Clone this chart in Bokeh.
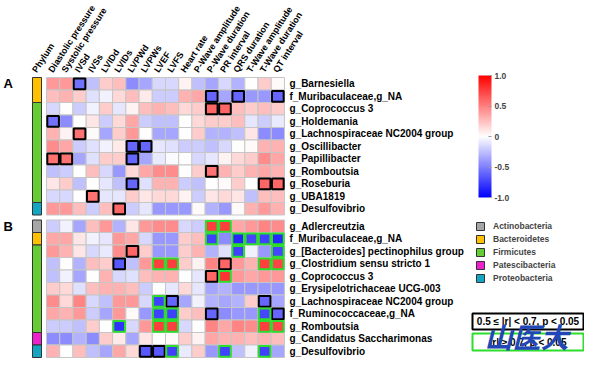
import numpy as np
from bokeh.plotting import figure
from bokeh.models import (ColumnDataSource, Range1d, LinearColorMapper, ColorBar,
                          FixedTicker, CustomJSTickFormatter)
from bokeh.core.properties import value
from bokeh.embed import file_html
from bokeh.resources import INLINE

# ---------------- data ----------------
params = ["Diastolic pressure", "Systolic pressure", "IVSd", "IVSs", "LVIDd",
          "LVIDs", "LVPWd", "LVPWs", "LVEF", "LVFS", "Heart rate",
          "P-Wave amplitude", "P-Wave duration", "PR interval", "QRS duration",
          "T-Wave amplitude", "T-Wave duration", "QT interval"]

genera_a = ["g_Barnesiella", "f_Muribaculaceae,g_NA", "g_Coprococcus 3",
            "g_Holdemania", "g_Lachnospiraceae NC2004 group", "g_Oscillibacter",
            "g_Papillibacter", "g_Romboutsia", "g_Roseburia", "g_UBA1819",
            "g_Desulfovibrio"]
phylum_a = ["Bacteroidetes", "Bacteroidetes", "Firmicutes", "Firmicutes",
            "Firmicutes", "Firmicutes", "Firmicutes", "Firmicutes", "Firmicutes",
            "Firmicutes", "Proteobacteria"]
r_a = [
    [0.40, 0.40, -0.55, -0.25, 0.20, 0.25, -0.45, -0.35, -0.15, -0.15, 0.05, -0.25, -0.35, -0.15, -0.30, 0.00, 0.20, 0.02],
    [0.25, 0.30, 0.20, -0.12, -0.05, 0.15, 0.25, 0.08, -0.20, -0.20, 0.30, 0.35, -0.60, -0.35, -0.60, -0.40, -0.40, -0.60],
    [-0.15, 0.00, -0.20, -0.05, 0.20, -0.10, 0.05, 0.25, 0.30, 0.25, 0.15, 0.20, 0.60, 0.60, 0.25, 0.20, 0.25, 0.20],
    [-0.55, -0.45, 0.00, 0.10, -0.20, 0.15, 0.35, -0.20, -0.25, -0.25, 0.00, 0.15, 0.20, 0.20, 0.25, -0.10, -0.20, -0.08],
    [0.30, 0.05, 0.55, 0.02, -0.35, 0.20, 0.40, 0.00, -0.35, -0.35, 0.00, 0.20, -0.30, -0.30, -0.25, 0.10, -0.45, -0.45],
    [0.45, 0.35, -0.20, -0.12, -0.05, 0.08, -0.60, -0.60, -0.10, -0.12, -0.20, -0.20, -0.25, -0.15, 0.00, 0.02, 0.30, 0.30],
    [0.55, 0.55, -0.35, -0.12, 0.20, 0.20, -0.60, -0.35, -0.08, -0.02, 0.00, -0.15, -0.10, 0.05, 0.15, 0.20, 0.45, 0.35],
    [-0.25, -0.20, 0.00, 0.25, -0.15, -0.40, 0.15, 0.35, 0.45, 0.45, 0.00, 0.20, 0.55, 0.30, 0.20, 0.30, 0.35, 0.30],
    [0.10, 0.20, -0.25, 0.00, -0.10, -0.25, -0.60, -0.12, 0.30, 0.30, -0.20, -0.25, 0.00, 0.02, 0.20, 0.00, 0.60, 0.60],
    [-0.15, -0.15, 0.00, 0.55, -0.10, -0.10, 0.20, 0.10, 0.15, 0.15, 0.05, -0.20, 0.10, 0.15, 0.10, -0.25, 0.25, 0.25],
    [0.40, 0.40, 0.25, -0.20, 0.25, 0.60, -0.20, -0.10, -0.40, -0.40, -0.40, 0.02, -0.30, -0.40, 0.02, 0.30, 0.40, 0.30],
]
# '.' not significant, 'b' 0.5<=|r|<0.7 p<0.05, 'g' |r|>=0.7 p<0.05
sig_a = [
    "..b...............",
    "............b.b..b",
    "............bb....",
    "b.................",
    "..b...............",
    "......bb..........",
    "bb....b...........",
    "............b.....",
    "......b.........bb",
    "...b..............",
    ".....b............",
]

genera_b = ["g_Adlercreutzia", "f_Muribaculaceae,g_NA",
            "g_[Bacteroides] pectinophilus group", "g_Clostridium sensu stricto 1",
            "g_Coprococcus 3", "g_Erysipelotrichaceae UCG-003",
            "g_Lachnospiraceae NC2004 group", "f_Ruminococcaceae,g_NA",
            "g_Romboutsia", "g_Candidatus Saccharimonas", "g_Desulfovibrio"]
phylum_b = ["Actinobacteria", "Bacteroidetes", "Firmicutes", "Firmicutes",
            "Firmicutes", "Firmicutes", "Firmicutes", "Firmicutes", "Firmicutes",
            "Patescibacteria", "Proteobacteria"]
r_b = [
    [-0.20, -0.05, -0.35, 0.25, 0.40, -0.30, 0.10, 0.40, 0.45, 0.45, -0.15, -0.20, 0.75, 0.75, 0.35, 0.40, 0.48, 0.45],
    [0.35, 0.35, 0.10, -0.05, -0.10, 0.40, 0.35, -0.15, -0.40, -0.40, 0.20, 0.25, -0.75, -0.45, -0.85, -0.72, -0.75, -0.85],
    [0.40, 0.30, 0.10, -0.15, -0.08, 0.45, 0.60, 0.20, -0.40, -0.40, 0.20, 0.30, -0.30, -0.12, -0.75, -0.05, -0.40, -0.72],
    [-0.25, 0.00, -0.30, 0.25, 0.20, -0.65, -0.25, 0.40, 0.75, 0.75, 0.20, 0.05, 0.48, 0.60, 0.40, 0.30, 0.75, 0.72],
    [-0.25, -0.05, -0.35, 0.00, 0.30, -0.15, -0.12, 0.25, 0.30, 0.30, 0.00, -0.10, 0.60, 0.80, 0.40, 0.35, 0.40, 0.40],
    [0.20, 0.15, -0.12, 0.25, 0.30, 0.30, 0.25, -0.20, 0.00, -0.10, 0.15, -0.10, -0.35, -0.30, -0.40, -0.40, -0.40, -0.40],
    [0.45, 0.15, 0.48, -0.15, -0.25, 0.40, 0.40, -0.15, -0.75, -0.60, -0.35, -0.05, -0.30, -0.35, -0.30, 0.20, -0.60, -0.35],
    [0.35, 0.30, 0.40, -0.20, -0.35, 0.40, 0.02, -0.40, -0.75, -0.75, 0.20, 0.25, -0.60, -0.45, -0.40, -0.40, -0.72, -0.60],
    [-0.20, -0.20, -0.25, 0.20, 0.00, -0.80, -0.15, 0.40, 0.75, 0.75, -0.15, 0.00, 0.48, 0.35, 0.48, 0.45, 0.75, 0.72],
    [-0.45, -0.45, -0.30, -0.45, 0.20, 0.08, -0.35, 0.10, 0.00, 0.02, 0.20, 0.05, 0.35, 0.30, 0.30, 0.25, 0.30, 0.25],
    [0.30, 0.00, 0.25, -0.25, -0.35, 0.35, 0.15, -0.65, -0.65, -0.75, -0.08, 0.20, -0.40, -0.75, -0.25, -0.05, -0.75, -0.35],
]
sig_b = [
    "............gg....",
    "............g.gggg",
    "......b.......g..g",
    ".....b..gg...b..gg",
    "............bg....",
    "..................",
    "........gb......b.",
    "........gg..b...gb",
    ".....g..gg......gg",
    "..................",
    ".......bbg...g..g.",
]

phyla = ["Actinobacteria", "Bacteroidetes", "Firmicutes", "Patescibacteria",
         "Proteobacteria"]
phylum_colors = ["#a6a6a6", "#ffc000", "#66cc33", "#ee22cc", "#14a5c3"]

sig_labels = ["0.5 \u2264 |r| < 0.7, p < 0.05", "|r| \u2265 0.7, p < 0.05"]

# ---------------- layout ----------------
W, H = 584, 358
cw, rh = 13.22, 12.5          # cell size in px
grid_left, grid_top = 46.0, 77.0
gap = 5.0 / rh                # gap between panel A and B (rows)
x0 = -0.5 - grid_left / cw
y_top = 0.5 + grid_top / rh   # row 0 centred at y = 0, rows go downward


def fx(px):
    return x0 + px / cw


def fy(py):
    return y_top - py / rh


FONT = value("Liberation Sans")

p = figure(width=W, height=H, x_range=Range1d(x0, x0 + W / cw),
           y_range=Range1d(y_top - H / rh, y_top), output_backend="svg",
           toolbar_location=None, min_border=0,
           x_axis_location=None, y_axis_location=None)
p.grid.visible = False
p.outline_line_color = None
p.background_fill_color = "white"
p.border_fill_color = "white"

pal = []
for t in np.linspace(-1, 1, 256):
    if t < 0:
        c = (int(round(255 * (1 + t))), int(round(255 * (1 + t))), 255)
    else:
        c = (255, int(round(255 * (1 - t))), int(round(255 * (1 - t))))
    pal.append("#%02x%02x%02x" % c)
mapper = LinearColorMapper(palette=pal, low=-1, high=1)

nrow_a = len(genera_a)
offsets = [0.0, nrow_a + gap]
panels = [(genera_a, phylum_a, r_a, sig_a), (genera_b, phylum_b, r_b, sig_b)]

cx, cy, cr = [], [], []
bx, by, gx, gy = [], [], [], []
lab_y, lab_t = [], []
blocks = {ph: ([], []) for ph in phyla}
for off, (gen, phy, r, sig) in zip(offsets, panels):
    for i, row in enumerate(r):
        for j, v in enumerate(row):
            cx.append(j)
            cy.append(-(off + i))
            cr.append(v)
            if sig[i][j] == "b":
                bx.append(j); by.append(-(off + i))
            elif sig[i][j] == "g":
                gx.append(j); gy.append(-(off + i))
        lab_y.append(-(off + i))
        lab_t.append(gen[i])
    start = 0
    for i in range(1, len(phy) + 1):
        if i == len(phy) or phy[i] != phy[start]:
            blocks[phy[start]][0].append(-(off + (start + i - 1) / 2))
            blocks[phy[start]][1].append(i - start)
            start = i

src = ColumnDataSource(dict(x=cx, y=cy, r=cr))
p.rect(x="x", y="y", width=1, height=1, source=src,
       fill_color={"field": "r", "transform": mapper},
       line_color="#c6c6c6", line_width=1)
p.rect(x=bx, y=by, width=0.88, height=0.86, fill_color=None,
       line_color="black", line_width=2)
p.rect(x=gx, y=gy, width=0.88, height=0.86, fill_color=None,
       line_color="#2ddc2d", line_width=2)

# phylum side bar (one renderer per phylum -> legend)
bar_x = fx(36.5)
for ph, col in zip(phyla, phylum_colors):
    ys, hs = blocks[ph]
    p.rect(x=[bar_x] * len(ys), y=ys, width=9 / cw, height=hs,
           fill_color=col, line_color="#333333", line_width=1,
           legend_label=ph)

lg = p.legend[0]
lg.location = (475, 75)
lg.orientation = "vertical"
lg.glyph_width = 10
lg.glyph_height = 10
lg.label_height = 10
lg.spacing = 3
lg.padding = 0
lg.margin = 0
lg.label_standoff = 8
lg.border_line_color = None
lg.background_fill_alpha = 0
lg.label_text_font = "Liberation Sans"
lg.label_text_font_style = "bold"
lg.label_text_font_size = "8.5px"
lg.label_text_baseline = "middle"

# row labels
ncol = len(params)
p.text(x=[ncol - 0.5 + 5 / cw] * len(lab_y), y=lab_y, text=lab_t,
       text_font=FONT, text_font_style="bold", text_font_size="10px",
       text_align="left", text_baseline="middle", text_color="black")

# column labels
ang = np.deg2rad(57)
lab_base = fy(grid_top - 6)
p.text(x=[j - 0.2 for j in range(ncol)], y=[lab_base] * ncol, text=params,
       angle=ang, text_font=FONT, text_font_style="bold", text_font_size="9px",
       text_align="left", text_baseline="middle", text_color="black")
p.text(x=[bar_x - 0.2], y=[lab_base], text=["Phylum"], angle=ang,
       text_font=FONT, text_font_style="bold", text_font_size="9px",
       text_align="left", text_baseline="middle", text_color="black")

# panel letters
p.text(x=[fx(3)] * 2, y=[0, -offsets[1]], text=["A", "B"], text_font=FONT,
       text_font_style="bold", text_font_size="13px", text_align="left",
       text_baseline="middle", text_color="black")

# colour bar
cb = ColorBar(color_mapper=mapper, orientation="vertical", location=(478, 161),
              width=13, height=122, padding=0, margin=0,
              ticker=FixedTicker(ticks=[-1, -0.5, 0, 0.5, 1]),
              formatter=CustomJSTickFormatter(
                  code="return Math.abs(tick) < 1e-9 ? '0' : tick.toFixed(1)"),
              major_label_text_font="Liberation Sans",
              major_label_text_font_style="bold",
              major_label_text_font_size="8.5px",
              major_tick_line_color="#9a9a9a", major_tick_in=3,
              major_tick_out=0, minor_tick_line_color=None,
              bar_line_color=None, border_line_color=None,
              background_fill_alpha=0, label_standoff=3)
p.add_layout(cb, "center")

# significance key
kx = (fx(472) + fx(583)) / 2
kw = fx(583) - fx(472)
ky = [(fy(313) + fy(329)) / 2, (fy(333) + fy(350)) / 2]
kh = [fy(313) - fy(329), fy(333) - fy(350)]
p.rect(x=[kx, kx], y=ky, width=kw, height=kh, fill_color="white",
       line_color=["black", "#2ddc2d"], line_width=2)
p.text(x=[kx, kx], y=ky, text=sig_labels, text_font=FONT,
       text_font_style="bold", text_font_size="10px", text_align="center",
       text_baseline="middle", text_color="black")

# watermark
p.text(x=[fx(526)], y=[fy(335)], text=["\u5c71\u533b\u5927"],
       text_font=value("Noto Sans CJK SC"), text_font_style="bold italic",
       text_font_size="28px", text_align="center", text_baseline="middle",
       text_color="#2146b5")

open("out.html", "w").write(file_html(p, INLINE))
